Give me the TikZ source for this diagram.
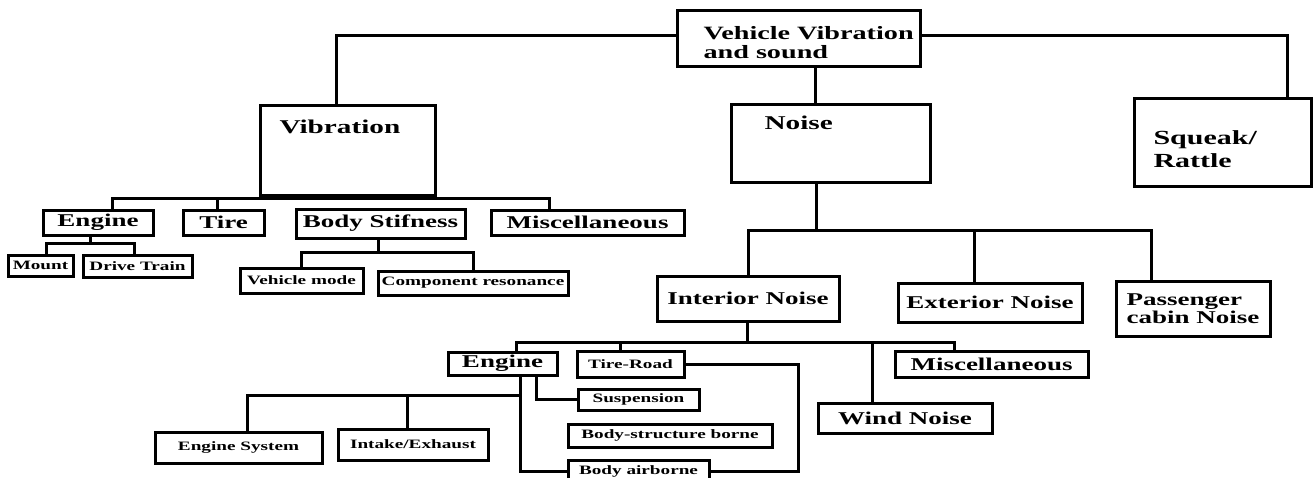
\documentclass[tikz,border=0pt]{standalone}
\usepackage{fontspec}
\setmainfont[FakeStretch=1.5]{Liberation Serif}
\usepackage{tikz}

\begin{document}
\begin{tikzpicture}[x=1pt,y=-1pt,line width=3pt,
                    every node/.style={inner sep=0pt}]
  \tikzstyle{box}=[draw,fill=white,font=\bfseries\fontsize{18}{19}\selectfont]
  \tikzstyle{bigtext}=[anchor=west,align=left,font=\bfseries\fontsize{19.5}{19}\selectfont]
  \tikzstyle{small}=[box,font=\bfseries\fontsize{12.8}{13}\selectfont]

  \useasboundingbox (0,0) rectangle (1314,477);

  % top level
  \node[box,minimum width=243,minimum height=56] (top)    at (798.5,38) {};
  \node[box,minimum width=175,minimum height=90] (vib)    at (347.5,150) {};
  \node[box,minimum width=199,minimum height=78] (noise)  at (830.5,143) {};
  \node[box,minimum width=177,minimum height=88] (squeak) at (1222.5,142) {};

  \node[bigtext,font=\bfseries\fontsize{18.8}{19}\selectfont] (topT) at (702,42.5) {Vehicle Vibration\\and sound};
  \node[bigtext] (vibT)    at (278,127)  {Vibration};
  \node[bigtext] (noiseT)  at (763,123)  {Noise};
  \node[bigtext,font=\bfseries\fontsize{20}{23}\selectfont] (squeakT) at (1152,149.5) {Squeak/\\Rattle};

  % vibration branch
  \node[box,minimum width=110,minimum height=25] (eng1)  at (98,222.5)    {Engine};
  \node[box,minimum width=81,minimum height=25]  (tire)  at (223.5,222.5) {Tire};
  \node[box,minimum width=169,minimum height=29] (body)  at (380.5,223.5) {Body Stifness};
  \node[box,minimum width=193,minimum height=25] (misc1) at (587.5,222.5) {Miscellaneous};

  \node[small,minimum width=65,minimum height=21]  (mount) at (40.5,265.5) {Mount};
  \node[small,minimum width=109,minimum height=22] (drive) at (137.5,266)  {Drive Train};
  \node[small,minimum width=123,minimum height=25] (vmode) at (301.5,280.5) {Vehicle mode};
  \node[small,minimum width=190,minimum height=24] (comp)  at (473,283)    {Component resonance};

  % noise branch
  \node[box,minimum width=182,minimum height=45] (interior)  at (748,298.5) {Interior Noise};
  \node[box,minimum width=184,minimum height=39] (exterior)  at (990,302.5) {Exterior Noise};
  \node[box,minimum width=154,minimum height=55,align=left,
        font=\bfseries\fontsize{18}{18}\selectfont] (passenger) at (1193,308.5) {Passenger\\cabin Noise};

  \node[box,minimum width=109,minimum height=23]   (eng2)     at (502.5,363.5) {Engine};
  \node[small,minimum width=107,minimum height=26] (tireroad) at (630.5,364)   {Tire-Road};
  \node[box,minimum width=193,minimum height=26]   (misc2)    at (991.5,364)   {Miscellaneous};
  \node[box,minimum width=174,minimum height=30]   (wind)     at (905,418)     {Wind Noise};

  \node[small,minimum width=121,minimum height=21] (susp)   at (638.5,399.5) {Suspension};
  \node[small,minimum width=204,minimum height=23] (bsb)    at (670,435.5)   {Body-structure borne};
  \node[small,minimum width=141,minimum height=22] (bab)    at (638.5,471)   {Body airborne};
  \node[small,minimum width=167,minimum height=31] (engsys) at (238.5,447.5) {Engine System};
  \node[small,minimum width=150,minimum height=31] (intake) at (413,444.5)   {Intake/Exhaust};

  % bus levels
  \coordinate (vbus) at (0,198);
  \coordinate (ebus) at (0,243);
  \coordinate (bbus) at (0,252);
  \coordinate (nbus) at (0,230);
  \coordinate (ibus) at (0,342);
  \coordinate (sbus) at (0,395);

  % connectors from the top
  \draw ([yshift=3]top.west) -| ([xshift=-11.5]vib.north);
  \draw ([yshift=3]top.east) -| ([xshift=64.5]squeak.north);
  \draw ([xshift=16.5]top.south) -- ([xshift=16.5]top.south |- noise.north);

  % vibration
  \draw ([xshift=-4.5]vib.south) -- ([xshift=-4.5]vib.south |- vbus);
  \draw ([xshift=14]eng1.north) |- ([xshift=-38.5]misc1.north |- vbus) -- ([xshift=-38.5]misc1.north);
  \draw ([xshift=-6.5]tire.north) -- ([xshift=-6.5]tire.north |- vbus);
  \draw ([xshift=-8]eng1.south) -- ([xshift=-8]eng1.south |- ebus);
  \draw ([xshift=5.5]mount.north) |- ([xshift=-3.5]drive.north |- ebus) -- ([xshift=-3.5]drive.north);
  \draw ([xshift=-2.5]body.south) -- ([xshift=-2.5]body.south |- bbus);
  \draw (vmode.north) |- (comp.north |- bbus) -- (comp.north);

  % noise
  \draw ([xshift=-14.5]noise.south) -- ([xshift=-14.5]noise.south |- nbus);
  \draw (interior.north) |- ([xshift=-42]passenger.north |- nbus) -- ([xshift=-42]passenger.north);
  \draw ([xshift=-16]exterior.north) -- ([xshift=-16]exterior.north |- nbus);

  % interior noise
  \draw ([xshift=-1]interior.south) -- ([xshift=-1]interior.south |- ibus);
  \draw ([xshift=13.5]eng2.north) |- ([xshift=-37.5]misc2.north |- ibus) -- ([xshift=-37.5]misc2.north);
  \draw ([xshift=-10.5]tireroad.north) -- ([xshift=-10.5]tireroad.north |- ibus);
  \draw ([xshift=-33]wind.north) -- ([xshift=-33]wind.north |- ibus);

  % engine and tire-road
  \draw ([xshift=17.5]eng2.south) |- (bab.west);
  \draw ([xshift=33.5]eng2.south) |- (susp.west);
  \draw ([xshift=8.5]engsys.north) |- ([xshift=17.5]eng2.south |- sbus);
  \draw ([xshift=-6]intake.north) -- ([xshift=-6]intake.north |- sbus);
  \draw (tireroad.east) -- ([xshift=113]tireroad.east) |- (bab.east);
\end{tikzpicture}
\end{document}
